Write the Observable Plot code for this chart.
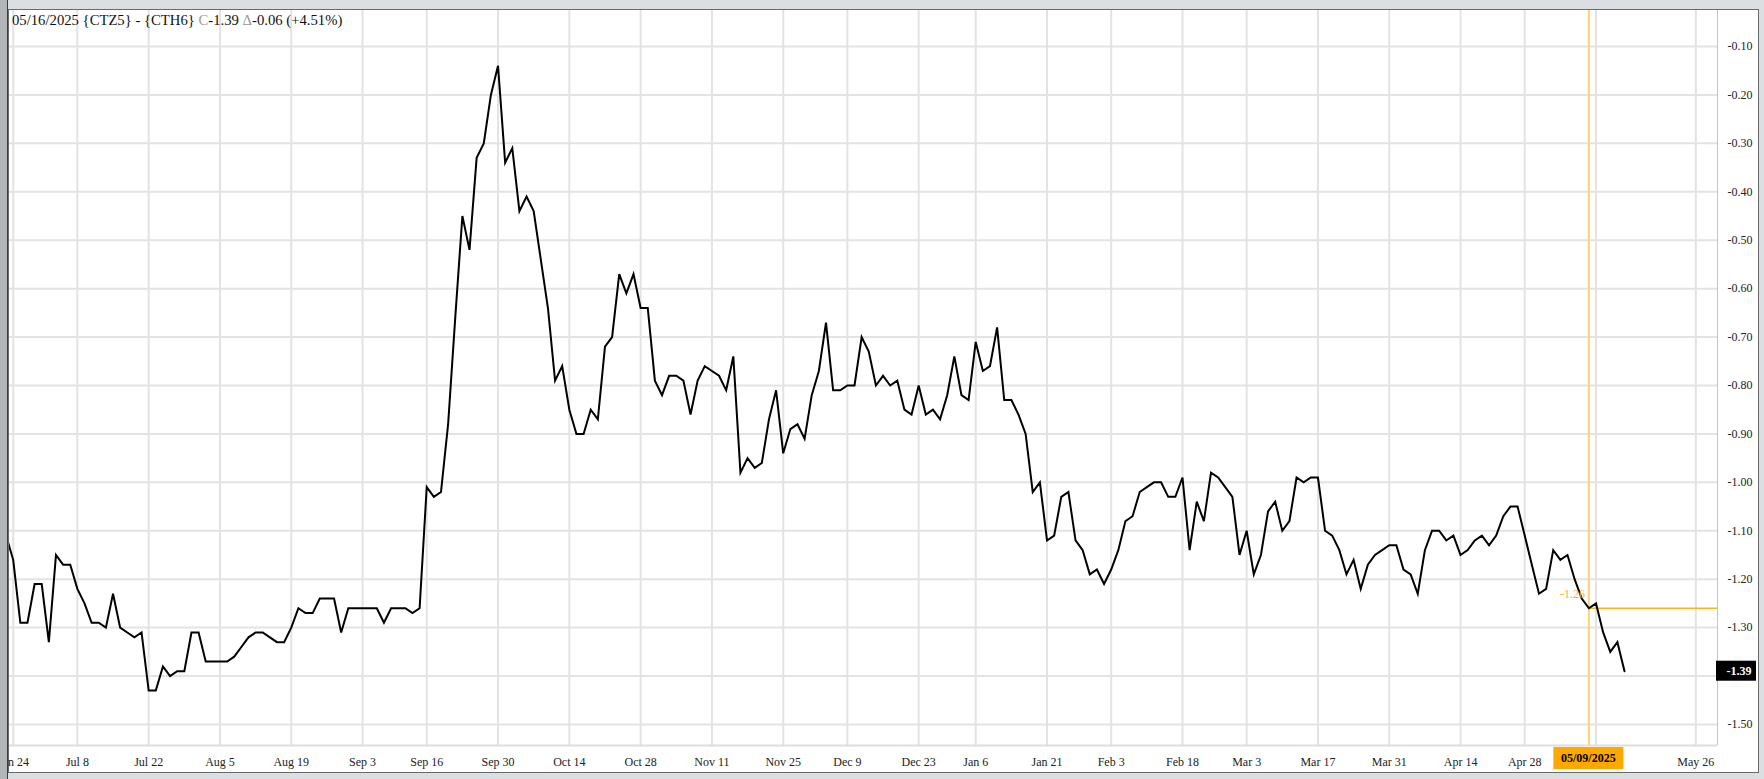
<!DOCTYPE html>
<html>
<head>
<meta charset="utf-8">
<script src="https://cdn.jsdelivr.net/npm/d3@7"></script>
<script src="https://cdn.jsdelivr.net/npm/@observablehq/plot@0.6"></script>
<style>
  html, body { margin: 0; padding: 0; }
  body { width: 1764px; height: 779px; overflow: hidden; position: relative; background: #dcdfe2; font-family: "Liberation Serif", "Times New Roman", serif; }
  #panel { position: absolute; left: 8px; top: 9px; width: 1749px; height: 762px; background: #fff; border: 1px solid #6a6a6a; }
  #chart { position: absolute; left: 0; top: 0; }
  #leftstrip { position: absolute; left: 0; top: 0; width: 7px; height: 779px; background: #b3b6b9; border-right: 1px solid #3c3c3c; }
  #title { position: absolute; left: 12px; top: 12px; font-size: 14.7px; color: #111; white-space: pre; }
  #title .g { color: #9a9a9a; }
</style>
</head>
<body>
<div id="panel"></div>
<div id="chart"></div>
<div id="leftstrip"></div>
<div id="title"></div>
<script>
// ---- data ----
const titleDate = "05/16/2025";
const titleSymbol = "{CTZ5} - {CTH6}";
const titleClose = "-1.39";
const titleChange = "-0.06";
const titlePct = "(+4.51%)";

// daily closes, one per trading bar, starting at bar -1 (Jun 21, 2024)
const firstBar = -1;
const values = [
  -1.11,
  -1.16, -1.29, -1.29, -1.21, -1.21, -1.33, -1.15, -1.17, -1.17, -1.22,
  -1.25, -1.29, -1.29, -1.30, -1.23, -1.30, -1.31, -1.32, -1.31, -1.43,
  -1.43, -1.38, -1.40, -1.39, -1.39, -1.31, -1.31, -1.37, -1.37, -1.37,
  -1.37, -1.36, -1.34, -1.32, -1.31, -1.31, -1.32, -1.33, -1.33, -1.30,
  -1.26, -1.27, -1.27, -1.24, -1.24, -1.24, -1.31, -1.26, -1.26, -1.26,
  -1.26, -1.26, -1.29, -1.26, -1.26, -1.26, -1.27, -1.26, -1.01, -1.03,
  -1.02, -0.88, -0.66, -0.45, -0.52, -0.33, -0.30, -0.20, -0.14, -0.34,
  -0.31, -0.44, -0.41, -0.44, -0.54, -0.64, -0.79, -0.76, -0.85, -0.90,
  -0.90, -0.85, -0.87, -0.72, -0.70, -0.57, -0.61, -0.57, -0.64, -0.64,
  -0.79, -0.82, -0.78, -0.78, -0.79, -0.86, -0.79, -0.76, -0.77, -0.78,
  -0.81, -0.74, -0.98, -0.95, -0.97, -0.96, -0.87, -0.81, -0.94, -0.89,
  -0.88, -0.91, -0.82, -0.77, -0.67, -0.81, -0.81, -0.80, -0.80, -0.70,
  -0.73, -0.80, -0.78, -0.80, -0.79, -0.85, -0.86, -0.80, -0.86, -0.85,
  -0.87, -0.82, -0.74, -0.82, -0.83, -0.71, -0.77, -0.76, -0.68, -0.83,
  -0.83, -0.86, -0.90, -1.02, -1.00, -1.12, -1.11, -1.03, -1.02, -1.12,
  -1.14, -1.19, -1.18, -1.21, -1.18, -1.14, -1.08, -1.07, -1.02, -1.01,
  -1.00, -1.00, -1.03, -1.03, -0.99, -1.14, -1.04, -1.08, -0.98, -0.99,
  -1.01, -1.03, -1.15, -1.10, -1.19, -1.15, -1.06, -1.04, -1.10, -1.08,
  -0.99, -1.00, -0.99, -0.99, -1.10, -1.11, -1.14, -1.19, -1.16, -1.22,
  -1.17, -1.15, -1.14, -1.13, -1.13, -1.18, -1.19, -1.23, -1.14, -1.10,
  -1.10, -1.12, -1.11, -1.15, -1.14, -1.12, -1.11, -1.13, -1.11, -1.07,
  -1.05, -1.05, -1.11, -1.17, -1.23, -1.22, -1.14, -1.16, -1.15, -1.20,
  -1.24, -1.26, -1.25, -1.31, -1.35, -1.33, -1.39
];

// x axis: trading-bar index of each gridline date, and the labels that show
const gridBars = [0, 9, 19, 29, 39, 49, 58, 68, 78, 88, 98, 108, 117, 127, 135, 145, 154, 164, 173, 183, 193, 203, 212, 222, 236];
const tickBars = [0, 9, 19, 29, 39, 49, 58, 68, 78, 88, 98, 108, 117, 127, 135, 145, 154, 164, 173, 183, 193, 203, 212, 236];
const tickLabels = ["Jun 24", "Jul 8", "Jul 22", "Aug 5", "Aug 19", "Sep 3", "Sep 16", "Sep 30", "Oct 14", "Oct 28", "Nov 11", "Nov 25", "Dec 9", "Dec 23", "Jan 6", "Jan 21", "Feb 3", "Feb 18", "Mar 3", "Mar 17", "Mar 31", "Apr 14", "Apr 28", "May 26"];
// y axis: gridlines, and the labels that show (-1.40 sits under the last-price badge)
const yGrid = [-0.10, -0.20, -0.30, -0.40, -0.50, -0.60, -0.70, -0.80, -0.90, -1.00, -1.10, -1.20, -1.30, -1.40, -1.50];
const yTicks = [-0.10, -0.20, -0.30, -0.40, -0.50, -0.60, -0.70, -0.80, -0.90, -1.00, -1.10, -1.20, -1.30, -1.50];

// crosshair
const crossBar = 221;
const crossValue = -1.26;
const crossDate = "05/09/2025";

// scale extents
const xDomain = [-0.52, 239.04];
const yDomain = [-1.5434, -0.0257];

// ---- title ----
document.getElementById("title").innerHTML =
  `${titleDate} ${titleSymbol} <span class="g">C</span>${titleClose} <span class="g">\u0394</span>${titleChange} ${titlePct}`;

// ---- chart ----
const data = values.map((v, k) => ({bar: k + firstBar, v}));
const lastValue = values[values.length - 1];
const labelOf = d => tickLabels[tickBars.indexOf(d)];

const gridColor = "#e3e3e3";
const orange = "#ffa800";

function lastBadge(index, scales, vals, dims) {
  const x0 = dims.width - dims.marginRight - 1;
  const y = scales.y(lastValue);
  const g = d3.create("svg:g");
  g.append("rect").attr("x", x0).attr("y", y - 10).attr("width", 40).attr("height", 20).attr("fill", "#000");
  g.append("text").attr("x", x0 + 23).attr("y", y).attr("dy", "0.35em")
    .attr("text-anchor", "middle").attr("fill", "#fff").attr("font-weight", "bold")
    .attr("font-size", 12).text(lastValue.toFixed(2));
  return g.node();
}

function dateBadge(index, scales, vals, dims) {
  const cx = scales.x(crossBar);
  const y0 = dims.height - dims.marginBottom + 2;
  const g = d3.create("svg:g");
  g.append("rect").attr("x", cx - 35).attr("y", y0).attr("width", 70).attr("height", 22).attr("fill", orange);
  g.append("text").attr("x", cx).attr("y", y0 + 11).attr("dy", "0.35em")
    .attr("text-anchor", "middle").attr("fill", "#000").attr("font-weight", "bold")
    .attr("font-size", 12).text(crossDate);
  return g.node();
}

const chart = Plot.plot({
  width: 1764,
  height: 779,
  marginLeft: 9,
  marginRight: 47,
  marginTop: 10,
  marginBottom: 34,
  style: {
    fontFamily: "'Liberation Serif', 'Times New Roman', serif",
    fontSize: "12px",
    color: "#222",
    background: "transparent",
    overflow: "visible"
  },
  x: {type: "linear", domain: xDomain, label: null},
  y: {type: "linear", domain: yDomain, label: null},
  marks: [
    Plot.gridY(yGrid, {stroke: gridColor, strokeOpacity: 1, strokeWidth: 2}),
    Plot.gridX(gridBars, {stroke: gridColor, strokeOpacity: 1, strokeWidth: 2}),
    Plot.ruleY([yDomain[0]], {stroke: "#dedede", strokeWidth: 2}),
    Plot.ruleX([xDomain[1]], {stroke: "#c4c4c4", strokeWidth: 1}),
    Plot.axisY(yTicks, {anchor: "right", label: null, tickSize: 0, tickPadding: 10, tickFormat: d => d.toFixed(2), fill: "#222"}),
    Plot.axisX(tickBars, {anchor: "bottom", label: null, tickSize: 0, tickPadding: 12, tickFormat: labelOf, fill: "#222"}),
    Plot.ruleX([crossBar], {stroke: "#ffd27a", strokeWidth: 2}),
    Plot.ruleY([crossValue], {x1: crossBar, x2: xDomain[1], stroke: "#ffb320", strokeWidth: 1.5}),
    Plot.line(data, {x: "bar", y: "v", stroke: "#000", strokeWidth: 2, clip: true, strokeLinejoin: "miter", strokeMiterlimit: 4}),
    Plot.text([{bar: crossBar, v: crossValue}], {x: "bar", y: "v", text: d => d.v.toFixed(2), textAnchor: "end", dx: -4, dy: -14, fill: "#f7b036", fontSize: 12}),
    lastBadge,
    dateBadge
  ]
});
document.getElementById("chart").appendChild(chart);
</script>
</body>
</html>
